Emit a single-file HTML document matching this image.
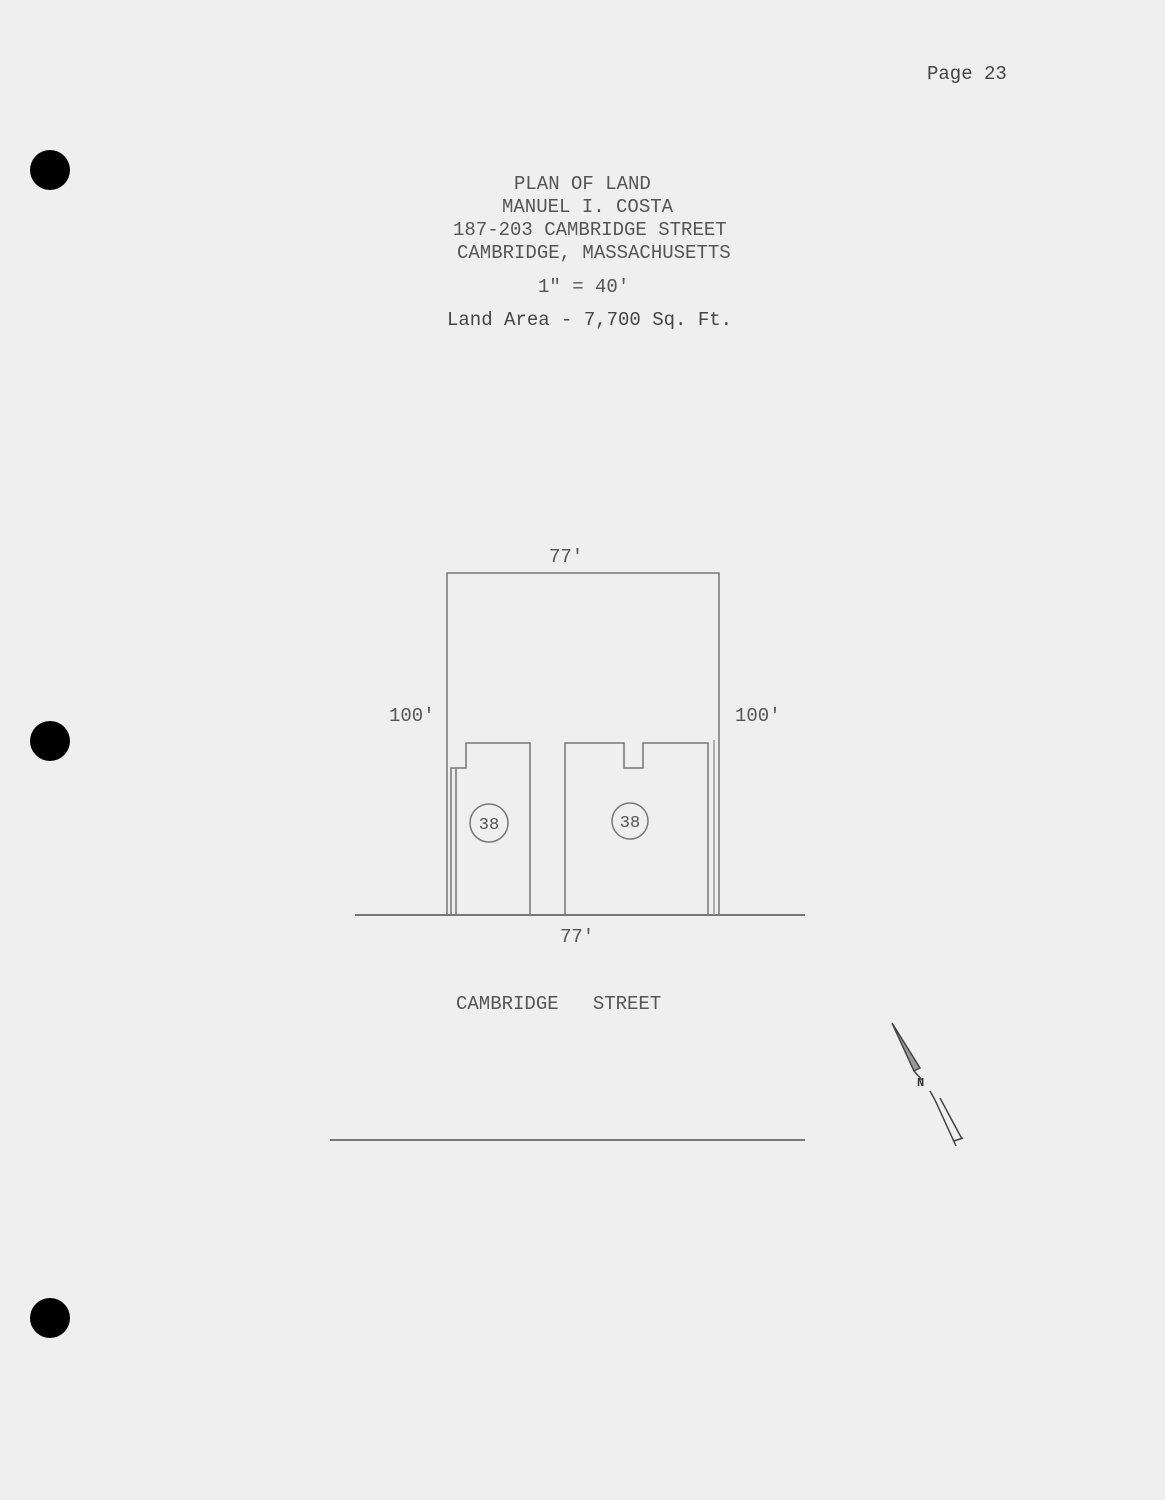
<!DOCTYPE html>
<html><head><style>
body{margin:0;width:1165px;height:1500px;background:#efefef;position:relative;overflow:hidden;font-family:"Liberation Mono",monospace;color:#555}
.t{position:absolute;white-space:pre;font-size:19px}
.dot{position:absolute;width:40px;height:40px;border-radius:50%;background:#000}
</style></head><body>
<div class="dot" style="left:30px;top:150px"></div>
<div class="dot" style="left:30px;top:721px"></div>
<div class="dot" style="left:30px;top:1298px"></div>
<div class="t" style="left:927px;top:63px;color:#444">Page 23</div>
<div class="t" style="left:514px;top:173px">PLAN OF LAND</div>
<div class="t" style="left:502px;top:196px">MANUEL I. COSTA</div>
<div class="t" style="left:453px;top:219px">187-203 CAMBRIDGE STREET</div>
<div class="t" style="left:457px;top:242px">CAMBRIDGE, MASSACHUSETTS</div>
<div class="t" style="left:538px;top:276px">1" = 40'</div>
<div class="t" style="left:447px;top:309px;color:#444">Land Area - 7,700 Sq. Ft.</div>
<div class="t" style="left:549px;top:546px">77'</div>
<div class="t" style="left:389px;top:705px">100'</div>
<div class="t" style="left:735px;top:705px">100'</div>
<div class="t" style="left:560px;top:926px">77'</div>
<div class="t" style="left:456px;top:993px">CAMBRIDGE   STREET</div>
<svg width="1165" height="1500" style="position:absolute;left:0;top:0" fill="none" stroke="#777" stroke-width="1.5">
<path d="M447 915V573H719V915"/>
<path d="M355 915H805" stroke-width="2"/>
<path d="M451 915V768H466V743H530V915"/>
<path d="M456 915V768"/>
<path d="M565 915V743H624V768H643V743H708V915"/>
<path d="M714 915V740" stroke="#999"/>
<circle cx="489" cy="823" r="19"/>
<circle cx="630" cy="821" r="18"/>
<text x="489" y="829" text-anchor="middle" font-family="Liberation Mono" font-size="17" fill="#555" stroke="none">38</text>
<text x="630" y="827" text-anchor="middle" font-family="Liberation Mono" font-size="17" fill="#555" stroke="none">38</text>
<path d="M330 1140H805" stroke-width="2"/>
<path d="M892 1023L920 1068L914 1071Z" stroke="#444" fill="#999"/>
<path d="M914 1071L922 1080M930 1091L935 1100M935 1100L956 1146M940 1098L962 1139M954 1141L963 1138" stroke="#444"/>
</svg>
<div class="t" style="left:917px;top:1076px;font-size:12px;color:#333;font-weight:bold">N</div>
</body></html>
